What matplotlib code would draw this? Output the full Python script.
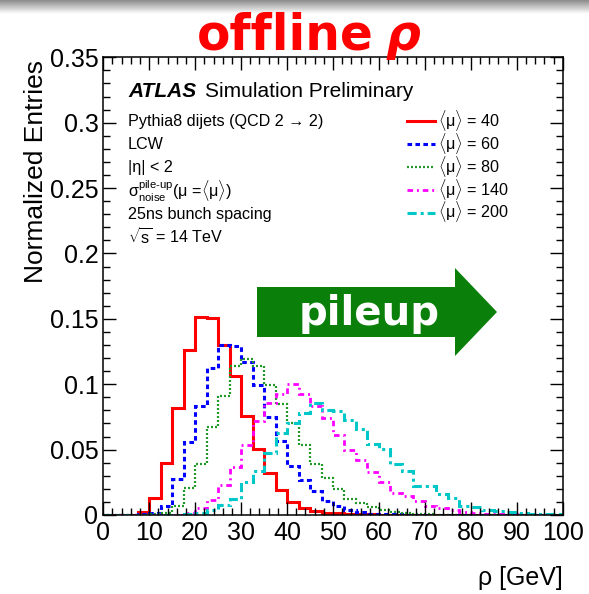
import numpy as np
import matplotlib
matplotlib.use('Agg')
import matplotlib.pyplot as plt
from matplotlib.patches import Polygon
from matplotlib.ticker import MultipleLocator, FuncFormatter

plt.rcParams['font.family'] = ['Liberation Sans', 'DejaVu Sans']
plt.rcParams['mathtext.fontset'] = 'custom'
plt.rcParams['mathtext.rm'] = 'Liberation Sans'
plt.rcParams['mathtext.it'] = 'Liberation Sans:italic'
plt.rcParams['mathtext.bf'] = 'Liberation Sans:bold'

# offline rho, 2.5 GeV bins from 0 to 100 GeV, unit-normalised
bin_edges = np.arange(0, 100.01, 2.5)

rho_mu40 = [0, 0, 0, 0.0026, 0.0132, 0.0396, 0.0817, 0.1259, 0.1515, 0.1505,
            0.1300, 0.1063, 0.0757, 0.0503, 0.0324, 0.0191, 0.0102, 0.0056, 0.0033, 0.0018,
            0.0013, 0.0009, 0.0006, 0.0004, 0.0003, 0.0002, 0.0001, 0, 0, 0,
            0, 0, 0, 0, 0, 0, 0, 0, 0, 0]
rho_mu60 = [0, 0, 0.0001, 0.0004, 0.0016, 0.0072, 0.0273, 0.0556, 0.0833, 0.1125,
            0.1300, 0.1289, 0.1173, 0.0997, 0.0747, 0.0568, 0.0373, 0.0271, 0.0182, 0.0104,
            0.0070, 0.0042, 0.0021, 0.0011, 0.0006, 0.0004, 0.0003, 0.0002, 0.0001, 0,
            0, 0, 0, 0, 0, 0, 0, 0, 0, 0]
rho_mu80 = [0, 0, 0, 0.0001, 0.0004, 0.0016, 0.0069, 0.0204, 0.0388, 0.0671,
            0.0909, 0.1142, 0.1190, 0.1142, 0.0997, 0.0845, 0.0701, 0.0535, 0.0391, 0.0281,
            0.0197, 0.0126, 0.0090, 0.0059, 0.0038, 0.0026, 0.0016, 0.0008, 0.0005, 0.0003,
            0.0002, 0.0001, 0, 0, 0, 0, 0, 0, 0, 0]
rho_mu140 = [0, 0, 0, 0, 0, 0, 0.0003, 0.0016, 0.0052, 0.0115,
             0.0229, 0.0370, 0.0535, 0.0719, 0.0854, 0.0923, 0.1000, 0.0923, 0.0833, 0.0745,
             0.0611, 0.0499, 0.0420, 0.0331, 0.0255, 0.0171, 0.0145, 0.0109, 0.0069, 0.0053,
             0.0038, 0.0026, 0.0016, 0.0011, 0.0006, 0.0004, 0.0003, 0.0002, 0.0001, 0.0001]
rho_mu200 = [0.0002, 0.0002, 0.0002, 0.0002, 0.0002, 0.0002, 0.0002, 0.0005, 0.0016, 0.0038,
             0.0074, 0.0123, 0.0250, 0.0339, 0.0472, 0.0627, 0.0701, 0.0778, 0.0854, 0.0804,
             0.0798, 0.0727, 0.0656, 0.0544, 0.0503, 0.0391, 0.0337, 0.0223, 0.0218, 0.0163,
             0.0128, 0.0067, 0.0064, 0.0038, 0.0031, 0.0021, 0.0016, 0.0011, 0.0011, 0.0006]

mu_values = [40, 60, 80, 140, 200]
info_lines = [
    'Pythia8 dijets (QCD 2 → 2)',
    'LCW',
    '|η| < 2',
    r'$\mathrm{σ}^{\text{pile-up}}_{\mathrm{noise}}$(μ =$\langle$μ$\rangle$)',
    '25ns bunch spacing',
    r'$\sqrt{\mathrm{s}}$ = 14 TeV',
]

W, H = 589, 594


def px(x, y):
    """pixel position (from top-left) -> figure fraction"""
    return x / W, 1 - y / H


fig = plt.figure(figsize=(W / 100, H / 100), dpi=100)

# grey band along the top edge
band = fig.add_axes([0, 1 - 14 / H, 1, 14 / H])
band.imshow(np.linspace(0.55, 1.0, 30)[:, None], aspect='auto', cmap='gray',
            vmin=0, vmax=1, extent=[0, 1, 0, 1])
band.axis('off')

ax = fig.add_axes([103.3 / W, 79 / H, 459.4 / W, 457.7 / H])

styles = [
    dict(color='#ff0000', lw=2.2, ls='-'),
    dict(color='#0000ff', lw=2.2, ls=(0, (1.5, 1.1))),
    dict(color='#22992a', lw=1.6, ls=(0, (0.9, 0.9))),
    dict(color='#ff00ff', lw=2.0, ls=(0, (2.0, 1.4, 0.7, 1.4))),
    dict(color='#00c8c8', lw=2.2, ls=(0, (3.0, 1.3, 1.0, 1.3))),
]
series = [rho_mu40, rho_mu60, rho_mu80, rho_mu140, rho_mu200]
for vals, mu, st in zip(series, mu_values, styles):
    ax.stairs(vals, bin_edges, label=r'$\langle$μ$\rangle$ = %d' % mu,
              color=st['color'], linewidth=st['lw'], linestyle=st['ls'], baseline=0)

ax.set_xlim(0, 100)
ax.set_ylim(0, 0.35)
ax.xaxis.set_major_locator(MultipleLocator(10))
ax.xaxis.set_minor_locator(MultipleLocator(2))
ax.yaxis.set_major_locator(MultipleLocator(0.05))
ax.yaxis.set_minor_locator(MultipleLocator(0.01))
ax.yaxis.set_major_formatter(FuncFormatter(lambda v, p: f'{round(v, 2):g}'))
ax.tick_params(which='both', direction='in', top=True, right=True, width=1.0)
ax.tick_params(which='major', length=9.5, labelsize=18)
ax.tick_params(which='minor', length=4.8)
ax.tick_params(axis='x', pad=4)
ax.tick_params(axis='y', pad=3.5)
for sp in ax.spines.values():
    sp.set_linewidth(1.1)

ax.set_xlabel('ρ [GeV]', fontsize=18)
ax.xaxis.set_label_coords(1.0, -0.1376)
ax.xaxis.label.set_ha('right')
ax.xaxis.label.set_va('center')
ax.set_ylabel('Normalized Entries', fontsize=19)
ax.yaxis.set_label_coords(-0.1455, 0.995)
ax.yaxis.label.set_ha('right')
ax.yaxis.label.set_va('center')

leg = ax.legend(loc='upper left', bbox_to_anchor=(0.66, 0.8895), frameon=False,
                fontsize=11.6, handlelength=1.75, handletextpad=0.2,
                labelspacing=-0.13, borderpad=0, borderaxespad=0)

# ATLAS label and sample description
fig.text(*px(128, 97), 'ATLAS', fontsize=15, fontweight='bold', fontstyle='italic', va='baseline')
fig.text(*px(205, 97), 'Simulation Preliminary', fontsize=15, va='baseline')
for i, line in enumerate(info_lines):
    fig.text(*px(128, 121.7 + 23.1 * i), line, fontsize=11.6, va='center')

# title
fig.text(*px(197, 50), 'offline', fontsize=35, fontweight='bold', color='red',
         family='DejaVu Sans', va='baseline')
fig.text(*px(386, 50), 'ρ', fontsize=35, fontweight='bold', fontstyle='italic',
         color='red', family='DejaVu Sans', va='baseline')

# pileup arrow
arrow_px = [(257, 287), (455, 287), (455, 268), (497, 312), (455, 356), (455, 337), (257, 337)]
fig.patches.append(Polygon([px(x, y) for x, y in arrow_px], closed=True,
                           transform=fig.transFigure, facecolor='#0a800a',
                           edgecolor='none', zorder=5))
fig.text(*px(369, 325), 'pileup', fontsize=29, fontweight='bold', color='white',
         family='DejaVu Sans', ha='center', va='baseline', zorder=6)

fig.savefig('out.png', dpi=100)
